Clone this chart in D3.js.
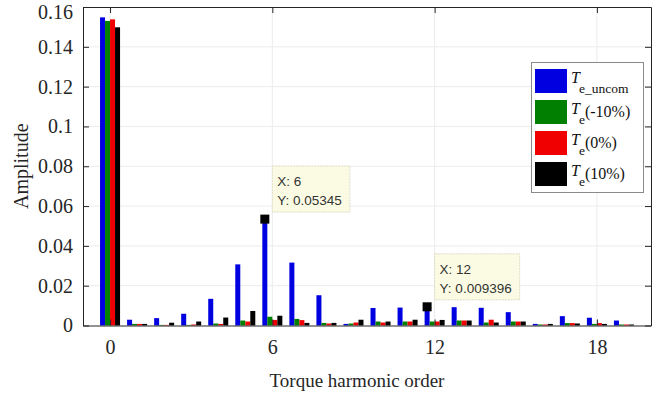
<!DOCTYPE html>
<html>
<head>
<meta charset="utf-8">
<script src="https://cdn.jsdelivr.net/npm/d3@7"></script>
<style>
html,body{margin:0;padding:0;background:#fff;}
svg{display:block;}
</style>
</head>
<body>
<svg id="chart" width="671" height="400"></svg>
<script>
// ---- data ----
const harmonics = [0,1,2,3,4,5,6,7,8,9,10,11,12,13,14,15,16,17,18,19];
const seriesNames = ["e_uncom", "(-10%)", "(0%)", "(10%)"];
const Te_uncom = [0.1548, 0.0029, 0.0037, 0.0059, 0.0134, 0.0307, 0.05345, 0.0316, 0.0152, 0.0008, 0.0088, 0.0090, 0.009396, 0.0092, 0.0089, 0.0067, 0.0008, 0.0047, 0.0039, 0.0025];
const Te_m10   = [0.1530, 0.0008, 0.0003, 0.0003, 0.0010, 0.0025, 0.0044, 0.0033, 0.0013, 0.0010, 0.0020, 0.0020, 0.0020, 0.0025, 0.0015, 0.0020, 0.0005, 0.0012, 0.0008, 0.0005];
const Te_0     = [0.1538, 0.0008, 0.0003, 0.0005, 0.0008, 0.0020, 0.0028, 0.0027, 0.0010, 0.0015, 0.0015, 0.0020, 0.0020, 0.0025, 0.0029, 0.0020, 0.0005, 0.0012, 0.0012, 0.0005];
const Te_p10   = [0.1498, 0.0008, 0.0014, 0.0020, 0.0040, 0.0073, 0.0049, 0.0013, 0.0013, 0.0029, 0.0020, 0.0029, 0.0028, 0.0025, 0.0015, 0.0020, 0.0008, 0.0010, 0.0008, 0.0005];
const xTicks = [0, 6, 12, 18];
const yTicks = [0, 0.02, 0.04, 0.06, 0.08, 0.1, 0.12, 0.14, 0.16];
const yTickLabels = ["0", "0.02", "0.04", "0.06", "0.08", "0.1", "0.12", "0.14", "0.16"];
const dataTips = [{x: 6, series: 0, label: "0.05345"}, {x: 12, series: 0, label: "0.009396"}];
const colors = ["#0000e0", "#007f00", "#f00000", "#000000"];

// ---- layout ----
const L = 83, R = 651, T = 7, B = 325.5;
const svg = d3.select("#chart");
const x = d3.scaleLinear().domain([-1, 20]).range([L, R]);
const y = d3.scaleLinear().domain([0, 0.16]).range([B, T]);
const allSeries = [Te_uncom, Te_m10, Te_0, Te_p10];
const groupW = 0.74;
const sub = d3.scaleBand().domain(d3.range(allSeries.length)).range([-groupW/2, groupW/2]).padding(0);

// grid
const grid = svg.append("g");
grid.selectAll("line.gy").data(yTicks.slice(1, -1)).join("line")
  .attr("x1", L).attr("x2", R).attr("y1", d => y(d)).attr("y2", d => y(d))
  .attr("stroke", "#ececec").attr("stroke-width", 1);
grid.selectAll("line.gx").data(xTicks).join("line")
  .attr("y1", T).attr("y2", B).attr("x1", d => x(d)).attr("x2", d => x(d))
  .attr("stroke", "#ececec").attr("stroke-width", 1);

// bars
allSeries.forEach((vals, si) => {
  svg.append("g").selectAll("rect").data(harmonics).join("rect")
    .attr("x", h => x(h + sub(si)))
    .attr("width", x(sub.bandwidth()) - x(0))
    .attr("y", (h, i) => y(vals[i]))
    .attr("height", (h, i) => y(0) - y(vals[i]))
    .attr("fill", colors[si]);
});

// axes
const axFont = "'Liberation Serif', 'Times New Roman', serif";
const axColor = "#262626";
const yAxis = d3.axisLeft(y).tickValues(yTicks).tickFormat((d, i) => yTickLabels[i]).tickSizeInner(-6).tickSizeOuter(0).tickPadding(10);
const gy = svg.append("g").attr("transform", `translate(${L},0)`).call(yAxis);
const yAxisR = d3.axisRight(y).tickValues(yTicks).tickFormat("").tickSizeInner(-6).tickSizeOuter(0);
const gyr = svg.append("g").attr("transform", `translate(${R},0)`).call(yAxisR);
const xAxis = d3.axisBottom(x).tickValues(xTicks).tickFormat(d3.format("d")).tickSizeInner(-6).tickSizeOuter(0).tickPadding(14);
const gx = svg.append("g").attr("transform", `translate(0,${B})`).call(xAxis);
const xAxisT = d3.axisTop(x).tickValues(xTicks).tickFormat("").tickSizeInner(-6).tickSizeOuter(0);
const gxt = svg.append("g").attr("transform", `translate(0,${T})`).call(xAxisT);
[gy, gyr, gx, gxt].forEach(g => {
  g.select(".domain").attr("stroke", axColor).attr("stroke-width", 1);
  g.selectAll(".tick line").attr("stroke", axColor);
  g.selectAll(".tick text").attr("fill", axColor).style("font-family", axFont).style("font-size", "20px");
});
// keep the top label inside the picture
gy.selectAll(".tick text").filter(d => d === 0.16).attr("dy", "0.55em");

// axis labels
svg.append("text").attr("x", (L + R) / 2 - 10).attr("y", 387).attr("text-anchor", "middle")
  .style("font-family", axFont).style("font-size", "19px").attr("fill", axColor)
  .text("Torque harmonic order");
svg.append("text").attr("transform", `translate(28,${(T + B) / 2}) rotate(-90)`).attr("text-anchor", "middle")
  .style("font-family", axFont).style("font-size", "20px").attr("fill", axColor)
  .text("Amplitude");

// legend
const leg = svg.append("g");
leg.append("rect").attr("x", 531.5).attr("y", 62.5).attr("width", 112).attr("height", 130)
  .attr("fill", "#fff").attr("stroke", "#8a8a8a").attr("stroke-width", 1);
seriesNames.forEach((name, i) => {
  const ry = 69 + i * 31;
  leg.append("rect").attr("x", 535).attr("y", ry).attr("width", 32).attr("height", 24).attr("fill", colors[i]);
  const t = leg.append("text").attr("x", 571).attr("y", ry + 14)
    .style("font-family", axFont).style("font-size", "16px").attr("fill", "#111");
  t.append("tspan").style("font-style", "italic").text("T");
  if (i === 0) {
    t.append("tspan").attr("dy", 10).attr("dx", -1).style("font-size", "13.5px").text("e_uncom");
  } else {
    t.append("tspan").attr("dy", 10).attr("dx", -1).style("font-size", "13.5px").text("e");
    t.append("tspan").attr("dy", -7).style("font-size", "16px").text(name);
  }
});

// data tips
dataTips.forEach(tip => {
  const idx = harmonics.indexOf(tip.x);
  const v = allSeries[tip.series][idx];
  const cx = x(tip.x + sub(tip.series) + sub.bandwidth() / 2);
  const cy = y(v);
  const g = svg.append("g");
  const lines = ["X: " + tip.x, "Y: " + tip.label];
  const tf = "'Liberation Sans', Arial, sans-serif";
  const bx = cx + 7.5, bb = cy - 7;
  const tmp = g.append("text").style("font-family", tf).style("font-size", "13.5px").text(lines[1]);
  const w = tmp.node().getComputedTextLength() + 13;
  tmp.remove();
  const h = 46;
  g.append("rect").attr("x", bx).attr("y", bb - h).attr("width", w).attr("height", h)
    .attr("fill", "#fbfbe3").attr("stroke", "#dcdcc8").attr("stroke-dasharray", "2,1");
  lines.forEach((s, j) => {
    g.append("text").attr("x", bx + 5).attr("y", bb - h + 20 + j * 19)
      .style("font-family", tf).style("font-size", "13.5px").attr("fill", "#333").text(s);
  });
  g.append("rect").attr("x", cx - 4.5).attr("y", cy - 4.5).attr("width", 9).attr("height", 9).attr("fill", "#000");
});
</script>
</body>
</html>
